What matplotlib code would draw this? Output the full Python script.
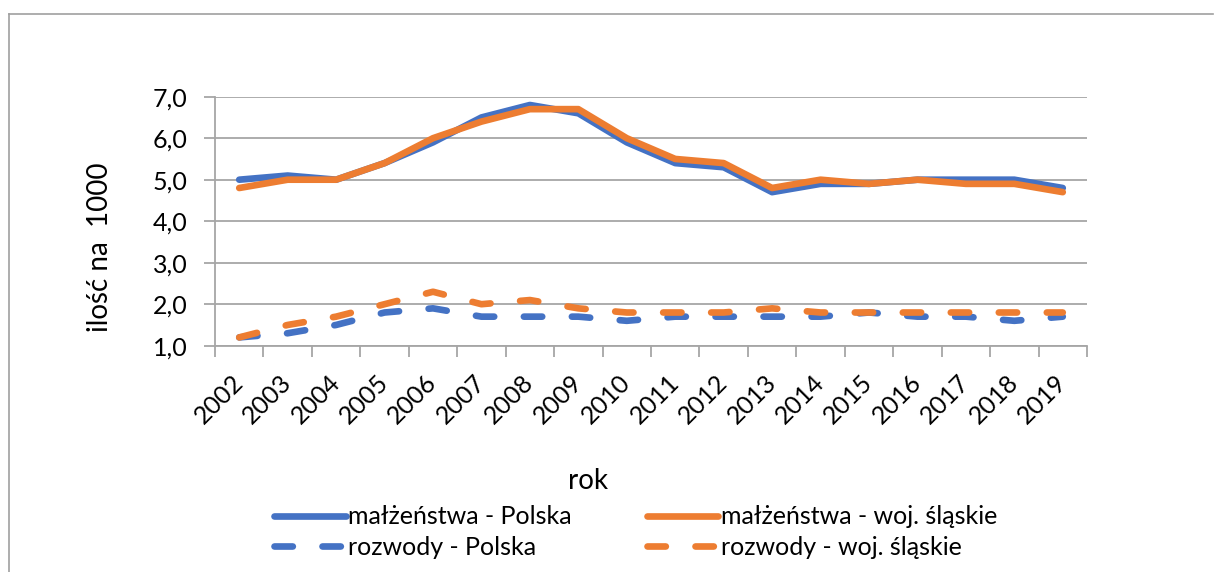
import matplotlib
matplotlib.use("Agg")
import matplotlib.pyplot as plt
from matplotlib.lines import Line2D
import numpy as np

years = [str(y) for y in range(2002, 2020)]
malz_polska = [5.0, 5.1, 5.0, 5.4, 5.9, 6.5, 6.8, 6.6, 5.9, 5.4, 5.3, 4.7, 4.9, 4.9, 5.0, 5.0, 5.0, 4.8]
malz_slaskie = [4.8, 5.0, 5.0, 5.4, 6.0, 6.4, 6.7, 6.7, 6.0, 5.5, 5.4, 4.8, 5.0, 4.9, 5.0, 4.9, 4.9, 4.7]
rozw_polska = [1.2, 1.3, 1.5, 1.8, 1.9, 1.7, 1.7, 1.7, 1.6, 1.7, 1.7, 1.7, 1.7, 1.8, 1.7, 1.7, 1.6, 1.7]
rozw_slaskie = [1.2, 1.5, 1.7, 2.0, 2.3, 2.0, 2.1, 1.9, 1.8, 1.8, 1.8, 1.9, 1.8, 1.8, 1.8, 1.8, 1.8, 1.8]
labels = ["małżeństwa - Polska", "rozwody - Polska",
          "małżeństwa - woj. śląskie", "rozwody - woj. śląskie"]
y_ticks = [1.0, 2.0, 3.0, 4.0, 5.0, 6.0, 7.0]

plt.rcParams['font.family'] = ['Lato', 'DejaVu Sans']

W, H = 1214, 572
fig = plt.figure(figsize=(W / 100, H / 100), dpi=100)
L, R, T, B = 215, 1087, 96.7, 345.7
ax = fig.add_axes([L / W, 1 - B / H, (R - L) / W, (B - T) / H])

blue = "#4472C4"
orange = "#ED7D31"
grid_c = "#A6A6A6"
lw = 4.8
x = np.arange(len(years))
common = dict(lw=lw, solid_capstyle='round', solid_joinstyle='round',
              dash_capstyle='round', dash_joinstyle='round')
dash = (0, (2.75, 4.45))

l1, = ax.plot(x, malz_polska, color=blue, **common, zorder=3)
l3, = ax.plot(x, malz_slaskie, color=orange, **common, zorder=4)
l2, = ax.plot(x, rozw_polska, color=blue, ls=dash, **common, zorder=3)
l4, = ax.plot(x, rozw_slaskie, color=orange, ls=dash, **common, zorder=4)

ax.set_xlim(-0.5, len(years) - 0.5)
ax.set_ylim(1.0, 7.0)
ax.set_yticks(y_ticks)
ax.set_yticklabels([f"{v:.1f}".replace('.', ',') for v in y_ticks], fontsize=18)
ax.grid(axis='y', color=grid_c, lw=1.3, zorder=1)
ax.set_axisbelow(True)

ax.set_xticks(x)
ax.set_xticklabels(years, rotation=45, ha='right', va='center',
                   rotation_mode='anchor', fontsize=18)
ax.set_xticks(np.arange(-0.5, len(years)), minor=True)
ax.tick_params(axis='x', which='major', length=0, pad=24)
ax.tick_params(axis='x', which='minor', length=8, width=1.3, color=grid_c)
ax.tick_params(axis='y', length=8, width=1.3, color=grid_c, pad=12)

for s in ['top', 'right']:
    ax.spines[s].set_visible(False)
for s in ['left', 'bottom']:
    ax.spines[s].set_color(grid_c)
    ax.spines[s].set_linewidth(1.3)

fig.text(100 / W, 1 - 247 / H, "ilość na  1000", rotation=90,
         ha='center', va='center', fontsize=20)
fig.text(588 / W, 1 - 481 / H, "rok", ha='center', va='center', fontsize=20)

leg = fig.legend([l1, l2, l3, l4], labels, ncol=2, loc='center',
                 bbox_to_anchor=(636 / W, 1 - 532 / H), frameon=False,
                 fontsize=18, handlelength=2.85, handletextpad=0.12,
                 columnspacing=3.0, labelspacing=0.3)

# outer chart border (top and left visible)
fig.add_artist(Line2D([9 / W, 1213 / W], [1 - 13.5 / H, 1 - 13.5 / H],
                      transform=fig.transFigure, color="#A0A0A0", lw=1.2))
fig.add_artist(Line2D([9 / W, 9 / W], [1 - 13.5 / H, 0],
                      transform=fig.transFigure, color="#A0A0A0", lw=1.2))

fig.savefig("out.png", dpi=100)
